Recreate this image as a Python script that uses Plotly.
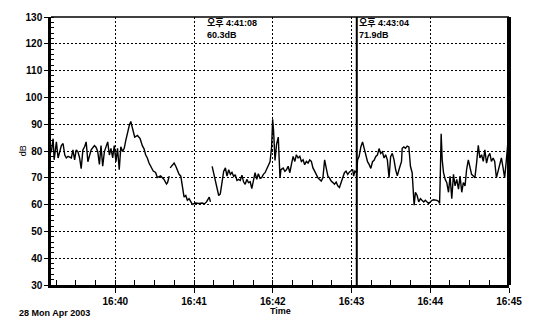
import pandas as pd
import plotly.graph_objects as go

# Sound level log, 28 Apr 2003 — seconds after 16:39:00 and level in dB
seg1_sec = [11.2, 12.6, 13.4, 15.1, 16.4, 18.9, 20.2, 21.5, 22.7, 24.0, 26.5, 27.7, 29.0, 30.2,
            31.5, 32.8, 34.0, 35.3, 36.6, 37.8, 39.1, 40.4, 41.6, 44.1, 45.3, 46.6, 47.9, 49.1,
            50.4, 51.7, 54.2, 55.5, 56.7, 58.0, 59.2, 60.5, 61.7, 63.0, 64.2, 65.5, 66.8, 68.0,
            69.3, 70.6, 71.8, 73.1, 74.8, 76.9, 78.9, 80.6, 81.9, 83.1, 84.4, 85.7, 86.9, 88.9,
            90.7, 92.0, 94.5, 97.0, 99.0, 99.8, 101.1]
seg1_db = [79.5, 84.6, 76.7, 83.4, 77.4, 82.0, 82.8, 78.5, 77.4, 78.0, 77.4, 80.4, 76.7, 80.4,
           79.8, 77.4, 73.4, 80.4, 81.6, 83.4, 76.0, 78.5, 80.4, 82.0, 81.4, 79.8, 75.0, 82.0,
           74.3, 79.8, 83.4, 78.5, 81.0, 77.4, 82.0, 76.0, 81.0, 73.0, 81.6, 79.8, 81.0, 84.0,
           87.0, 89.4, 91.0, 88.8, 85.2, 85.8, 84.6, 82.0, 80.8, 78.6, 77.4, 75.5, 74.3, 72.5,
           72.0, 70.1, 70.7, 69.5, 67.7, 68.2, 70.6]

seg2_sec = [101.8, 103.5, 104.8, 106.1, 107.3, 108.6, 109.9, 111.1, 112.4, 113.7, 114.9, 116.2,
            117.4, 118.7, 121.2, 123.7, 126.2, 128.0, 129.5, 130.6, 131.6, 132.5]
seg2_db = [73.7, 75.0, 75.5, 74.3, 73.0, 71.3, 70.6, 65.8, 62.8, 63.4, 61.6, 62.2,
           61.0, 60.1, 60.6, 60.4, 60.6, 60.3, 61.0, 62.2, 62.8, 61.0]

seg3_sec = [133.8, 135.0, 136.3, 137.5, 138.8, 140.0, 141.3, 142.6, 143.9, 145.1, 146.4, 147.7,
            148.9, 150.2, 151.4, 152.7, 154.0, 155.2, 156.5, 157.7, 159.0, 160.2, 161.5, 162.8,
            164.0, 165.3, 166.5, 167.8, 169.0, 170.3, 171.5, 172.8, 174.1, 175.3, 176.6, 177.9,
            179.1, 179.9, 180.6, 181.7, 182.9, 184.2, 184.7, 185.5, 186.2, 187.9, 189.2, 190.4,
            191.7, 193.0, 194.2, 195.5, 196.8, 198.0, 199.3, 200.6, 201.8, 203.1, 204.3, 205.6,
            206.9, 208.1, 209.4, 210.6, 211.9, 213.2, 214.4, 215.7, 216.9, 218.2, 219.5, 220.7,
            222.0, 223.2, 224.5, 225.8, 227.0, 228.3, 229.5, 230.8, 232.0, 233.3, 234.6, 235.8,
            237.1, 238.3, 239.6, 240.9, 241.6, 242.6, 244.0, 244.6, 245.8, 247.1, 248.4, 249.7,
            250.9, 252.2, 253.5, 254.7, 256.0, 257.2, 258.5, 259.7, 261.0, 262.2, 263.5, 264.8,
            266.0, 267.3, 268.6, 269.8, 271.1, 272.4, 273.6, 274.9, 276.2, 277.4, 278.1, 278.6,
            279.9, 281.1, 282.4, 283.7, 284.5, 284.9, 286.2, 287.0, 287.7, 288.7, 290.0, 291.2,
            292.5, 293.7, 295.0, 296.2, 297.5, 298.8, 300.0, 301.3, 302.6, 303.8, 305.1, 306.4,
            307.1, 307.6, 308.3, 309.1, 310.1, 311.4, 312.6, 313.9, 315.1, 316.4, 317.7, 318.9,
            320.2, 321.5, 322.7, 324.0, 325.2, 326.5, 327.7, 329.0, 330.2, 331.5, 332.8, 334.0,
            335.3, 336.6, 337.8, 339.1, 340.4, 341.6, 342.9, 344.1, 345.4, 346.6, 347.9, 349.1,
            350.4, 351.7, 352.9, 354.2, 355.5, 356.7, 358.0, 359.3, 360.0]
seg3_db = [74.3, 71.9, 69.4, 66.4, 63.4, 64.0, 67.6, 72.5, 73.7, 70.6, 73.0, 71.3,
           72.0, 70.5, 71.2, 69.0, 69.4, 69.0, 71.0, 68.5, 67.6, 69.4, 68.2, 68.5,
           66.0, 68.5, 71.9, 69.4, 71.5, 69.8, 70.0, 71.3, 71.9, 73.2, 75.0, 76.0,
           81.4, 91.8, 87.5, 76.5, 82.6, 85.2, 79.0, 70.0, 73.0, 73.6, 72.4, 73.0,
           74.3, 71.9, 75.0, 78.0, 76.1, 78.6, 77.4, 78.0, 76.1, 76.7, 74.9, 76.1,
           75.5, 76.7, 76.1, 73.7, 72.5, 71.3, 70.0, 69.4, 68.8, 70.0, 76.7, 73.7,
           70.6, 70.0, 68.8, 68.2, 67.6, 68.4, 67.0, 66.4, 68.2, 70.0, 71.9, 72.5,
           71.3, 72.1, 72.5, 73.1, 70.6, 72.5, 71.9, 76.7, 78.0, 81.5, 83.4, 81.0,
           78.6, 76.0, 74.9, 73.5, 76.0, 76.5, 78.0, 78.5, 80.9, 79.1, 79.7, 77.4,
           78.6, 76.7, 70.0, 77.9, 79.1, 76.7, 73.1, 70.7, 73.1, 75.5, 76.1, 81.0,
           81.5, 81.0, 81.8, 81.5, 78.2, 74.3, 71.9, 65.8, 59.8, 64.6, 63.4, 61.0,
           62.2, 61.6, 61.0, 61.6, 61.0, 60.4, 61.0, 61.6, 61.8, 61.8, 61.6, 61.2,
           60.4, 70.0, 86.4, 76.7, 71.9, 69.4, 68.2, 64.6, 70.6, 62.2, 71.3, 67.0,
           69.4, 65.8, 70.6, 64.6, 68.2, 67.0, 73.1, 76.7, 74.3, 71.3, 70.7, 70.0,
           75.5, 82.1, 77.4, 78.6, 76.1, 80.4, 75.5, 78.0, 79.1, 76.1, 77.4, 76.1,
           70.0, 72.9, 75.5, 77.4, 73.7, 70.0, 76.7, 84.0, 82.8]

# Cursor read-outs
cursor_time = ["16:41:08", "16:43:04"]
cursor_label = ["오후 4:41:08", "오후 4:43:04"]
cursor_db = [60.3, 71.9]

x_ticks = ["16:40", "16:41", "16:42", "16:43", "16:44", "16:45"]
y_ticks = [30, 40, 50, 60, 70, 80, 90, 100, 110, 120, 130]

day = "2003-04-28"
base = pd.Timestamp(f"{day} 16:39:00")

# Join the segments with breaks so the trace shows the dropouts
secs, levels = [], []
for s, d in [(seg1_sec, seg1_db), (seg2_sec, seg2_db), (seg3_sec, seg3_db)]:
    if secs:
        secs.append((secs[-1] + s[0]) / 2)
        levels.append(None)
    secs.extend(s)
    levels.extend(d)
times = [base + pd.Timedelta(seconds=v) for v in secs]

FONT = "Arial, 'Liberation Sans', 'Noto Sans CJK KR', sans-serif"
GRID_DASH = "2px,2px"

fig = go.Figure()
fig.add_trace(go.Scatter(
    x=times, y=levels, mode="lines", connectgaps=False,
    line=dict(color="black", width=1.4), hoverinfo="skip", showlegend=False,
))

x_start = base + pd.Timedelta(seconds=seg1_sec[0] - 0.2)
x_end = pd.Timestamp(f"{day} {x_ticks[-1]}:00")

fig.update_xaxes(
    type="date", range=[x_start, x_end],
    tickvals=[pd.Timestamp(f"{day} {t}:00") for t in x_ticks], ticktext=x_ticks,
    ticks="outside", ticklen=5, tickcolor="black",
    showgrid=True, gridcolor="black", griddash=GRID_DASH, gridwidth=1.3,
    showline=True, linecolor="black", linewidth=3, zeroline=False,
    minor=dict(dtick=15000, tick0=f"{day} 16:40:00", ticks="inside", ticklen=5,
               tickcolor="black", showgrid=False),
    tickfont=dict(family=FONT, size=10, color="black", weight="bold"),
)
fig.update_yaxes(
    range=[y_ticks[0], y_ticks[-1]], tickvals=y_ticks,
    ticks="outside", ticklen=4, tickcolor="black",
    showgrid=True, gridcolor="black", griddash=GRID_DASH, gridwidth=1,
    showline=True, linecolor="black", linewidth=2.5, zeroline=False,
    minor=dict(dtick=2, ticks="inside", ticklen=3, tickcolor="black", showgrid=False),
    tickfont=dict(family=FONT, size=10, color="black", weight="bold"),
)

# Frame: thin top edge, heavy right edge
fig.add_shape(type="line", xref="paper", yref="paper", x0=0, x1=1, y0=1, y1=1,
              line=dict(color="black", width=1.5))
fig.add_shape(type="line", xref="paper", yref="paper", x0=1, x1=1, y0=0, y1=1,
              line=dict(color="black", width=4))

# Second cursor drawn as a solid marker line
fig.add_shape(type="line", xref="x", yref="paper",
              x0=pd.Timestamp(f"{day} {cursor_time[1]}"), x1=pd.Timestamp(f"{day} {cursor_time[1]}"),
              y0=0, y1=1, line=dict(color="black", width=2))

for t, lab, v in zip(cursor_time, cursor_label, cursor_db):
    fig.add_annotation(
        x=pd.Timestamp(f"{day} {t}"), y=1, xref="x", yref="paper",
        xanchor="left", yanchor="top", align="left", showarrow=False,
        text=f"{lab}<br>{v}dB", yshift=2,
        font=dict(family=FONT, size=9, color="black", weight="bold"),
    )

fig.add_annotation(x=-0.076, y=0.5, xref="paper", yref="paper", text="dB", textangle=-90,
                   showarrow=False, font=dict(family=FONT, size=9, color="black"))
fig.add_annotation(x=0.502, y=-0.098, xref="paper", yref="paper", text="Time",
                   showarrow=False, yanchor="middle",
                   font=dict(family=FONT, size=9, color="black", weight="bold"))
fig.add_annotation(x=-0.074, y=-0.106, xref="paper", yref="paper", text="28 Mon Apr 2003",
                   showarrow=False, xanchor="left", yanchor="middle",
                   font=dict(family=FONT, size=9, color="black", weight="bold"))

fig.update_layout(
    width=533, height=321,
    margin=dict(l=51, r=20, t=11, b=36),
    paper_bgcolor="white", plot_bgcolor="white",
    font=dict(family=FONT, color="black"),
)

fig.write_html("out.html")
